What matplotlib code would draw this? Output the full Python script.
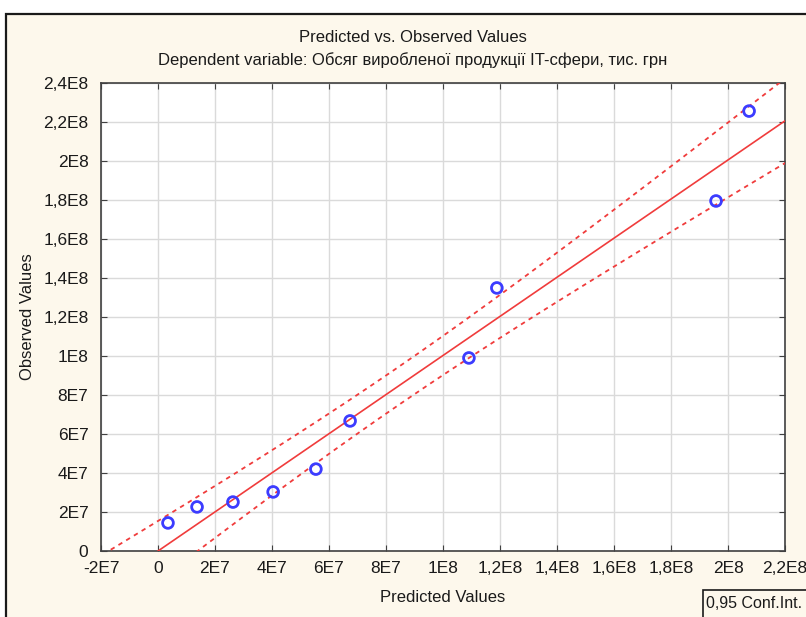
import numpy as np
import matplotlib.pyplot as plt
from matplotlib.patches import Rectangle
from matplotlib.ticker import FuncFormatter, MultipleLocator

plt.rcParams['font.family'] = ['Liberation Sans', 'DejaVu Sans']

# predicted and observed output of the IT sector, thousand UAH
predicted = [3.5e6, 1.37e7, 2.63e7, 4.04e7, 5.54e7, 6.74e7, 1.091e8, 1.189e8, 1.958e8, 2.074e8]
observed = [1.44e7, 2.26e7, 2.51e7, 3.03e7, 4.20e7, 6.67e7, 9.90e7, 1.349e8, 1.795e8, 2.256e8]

title = 'Predicted vs. Observed Values'
subtitle = 'Dependent variable: Обсяг виробленої продукції IT-сфери, тис. грн'
conf_level = 0.95
t_crit = 2.306  # t(0.975, n-2) for n = 10

x = np.array(predicted)
y = np.array(observed)
n = len(x)

# regression of observed on predicted with 95% confidence band for the mean
slope, intercept = np.polyfit(x, y, 1)
resid = y - (slope * x + intercept)
s = np.sqrt(np.sum(resid ** 2) / (n - 2))
sxx = np.sum((x - x.mean()) ** 2)

xx = np.linspace(-2.2e7, 2.3e8, 300)
fit = slope * xx + intercept
half = t_crit * s * np.sqrt(1.0 / n + (xx - x.mean()) ** 2 / sxx)


def sci_comma(v, pos=None):
    if abs(v) < 1:
        return '0'
    exp = int(np.floor(np.log10(abs(v)) + 1e-9))
    mant = round(v / 10 ** exp, 6)
    if mant == int(mant):
        m = str(int(mant))
    else:
        m = ('%g' % mant).replace('.', ',')
    return '%sE%d' % (m, exp)


W, H = 806, 617
fig = plt.figure(figsize=(W / 100, H / 100), dpi=100)
fig.patch.set_facecolor('white')
fig.add_artist(Rectangle((6 / W, -0.05), 1.2, 1 - 14 / H + 0.05,
                         transform=fig.transFigure, facecolor='#fdf8ec',
                         edgecolor='#1a1a1a', lw=1.6, zorder=0))

ax = fig.add_axes([101 / W, 1 - 551 / H, 684 / W, 468 / H])
ax.set_facecolor('white')

red = '#f03c3c'
ax.plot(xx, fit, color=red, lw=1.2, zorder=3)
ax.plot(xx, fit + half, color=red, lw=1.3, ls=(0, (2.5, 2.5)), zorder=3)
ax.plot(xx, fit - half, color=red, lw=1.3, ls=(0, (2.5, 2.5)), zorder=3)
ax.scatter(x, y, s=60, facecolors='none', edgecolors='#3c3cff', linewidths=2, zorder=4)

ax.set_xlim(-2e7, 2.2e8)
ax.set_ylim(0, 2.4e8)
ax.xaxis.set_major_locator(MultipleLocator(2e7))
ax.yaxis.set_major_locator(MultipleLocator(2e7))
ax.xaxis.set_major_formatter(FuncFormatter(sci_comma))
ax.yaxis.set_major_formatter(FuncFormatter(sci_comma))
ax.grid(True, color='#dadada', lw=1)
ax.set_axisbelow(True)
ax.tick_params(direction='in', length=4, top=True, right=True, labelsize=12.5,
               color='#404040', labelcolor='#1a1a1a')
ax.tick_params(axis='y', pad=9)
ax.tick_params(axis='x', pad=7)
for sp in ax.spines.values():
    sp.set_color('#404040')
    sp.set_linewidth(1.2)

ax.set_xlabel('Predicted Values', fontsize=12, labelpad=10, color='#1a1a1a')
ax.set_ylabel('Observed Values', fontsize=12, labelpad=6, color='#1a1a1a')

fig.text(413 / W, 1 - 37 / H, title, ha='center', va='center', fontsize=12, color='#1a1a1a')
fig.text(413 / W, 1 - 60 / H, subtitle, ha='center', va='center', fontsize=12, color='#1a1a1a')

# legend box running off the lower right corner
fig.add_artist(Rectangle((703 / W, -0.05), 0.3, (H - 590) / H + 0.05,
                         transform=fig.transFigure, facecolor='#fdf8ec',
                         edgecolor='#1a1a1a', lw=1.2, zorder=2))
fig.text(706 / W, 1 - 604 / H, '%s Conf.Int.' % str(conf_level).replace('.', ','),
         ha='left', va='center', fontsize=11.5, color='#1a1a1a', zorder=3)

fig.savefig('out.png', dpi=100)
